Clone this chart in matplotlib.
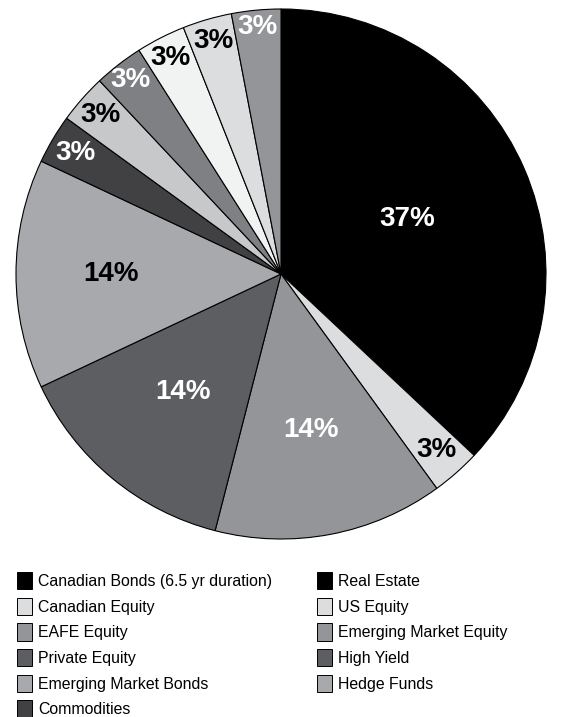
import numpy as np
import matplotlib.pyplot as plt
from matplotlib.patches import Patch

plt.rcParams['font.family'] = ['Liberation Sans', 'DejaVu Sans']

# slice values, clockwise from 12 o'clock
shares = [37, 3, 14, 14, 14, 3, 3, 3, 3, 3, 3]
slice_colors = ['#000000', '#dcdddf', '#939598', '#5d5e61', '#a7a9ac', '#414143',
                '#c7c8ca', '#7f8083', '#f1f2f2', '#dcdddf', '#939598']
text_colors = ['white', 'black', 'white', 'white', 'black', 'white',
               'black', 'white', 'black', 'black', 'white']
label_r = [0.52, 0.885, 0.60, 0.58, 0.64, 0.90, 0.91, 0.925, 0.915, 0.917, 0.937]

# legend entries (as printed under the chart)
legend_names = ['Canadian Bonds (6.5 yr duration)', 'Canadian Equity', 'EAFE Equity',
                'Private Equity', 'Emerging Market Bonds', 'Commodities',
                'Real Estate', 'US Equity', 'Emerging Market Equity', 'High Yield',
                'Hedge Funds']
legend_colors = ['#000000', '#dcdddf', '#939598', '#5d5e61', '#a7a9ac', '#414143',
                 '#000000', '#dcdddf', '#939598', '#5d5e61', '#a7a9ac']

fig = plt.figure(figsize=(5.81, 7.17), dpi=100)
ax = fig.add_axes([16 / 581, 1 - 539 / 717, 530 / 581, 530 / 717])

wedges, _ = ax.pie(shares, colors=slice_colors, startangle=90, counterclock=False,
                   wedgeprops=dict(edgecolor='black', linewidth=0.8))

for w, v, c, r in zip(wedges, shares, text_colors, label_r):
    ang = np.deg2rad((w.theta1 + w.theta2) / 2)
    ax.text(r * np.cos(ang), r * np.sin(ang), '%d%%' % v, color=c,
            fontsize=20, fontweight='bold', ha='center', va='center')

ax.set_xlim(-1, 1)
ax.set_ylim(-1, 1)
ax.axis('off')

handles = [Patch(facecolor=c, edgecolor='black', linewidth=0.7) for c in legend_colors]
fig.legend(handles, legend_names, loc='upper left', bbox_to_anchor=(17 / 581, 1 - 572 / 717),
           ncol=2, frameon=False, fontsize=11.4, handlelength=0.95, handleheight=1.3,
           handletextpad=0.38, labelspacing=0.53, columnspacing=2.8, borderpad=0,
           borderaxespad=0)

fig.savefig('out.png', dpi=100)
